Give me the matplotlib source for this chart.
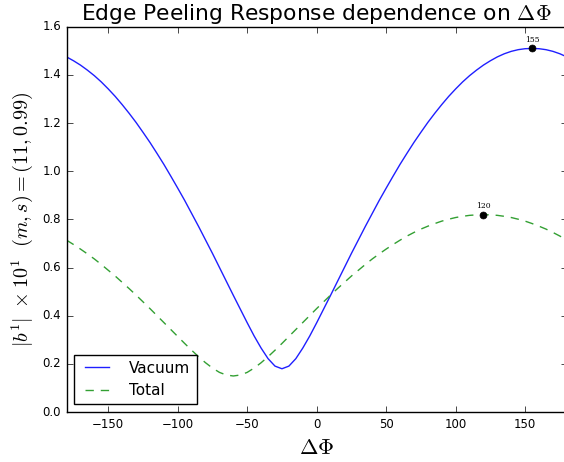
import numpy as np
import matplotlib
matplotlib.use('Agg')
import matplotlib.pyplot as plt

plt.style.use('classic')

# phase difference grid (deg)
phase = list(range(-180, 185, 5))

# |b^1| for the vacuum response
vacuum = [1.475, 1.459, 1.441, 1.420, 1.397, 1.371, 1.342, 1.311, 1.277, 1.241,
          1.203, 1.162, 1.120, 1.075, 1.029, 0.980, 0.930, 0.879, 0.825, 0.771,
          0.715, 0.659, 0.601, 0.543, 0.485, 0.428, 0.371, 0.316, 0.266, 0.222,
          0.191, 0.180, 0.191, 0.222, 0.266, 0.316, 0.371, 0.428, 0.485, 0.543,
          0.601, 0.659, 0.715, 0.771, 0.825, 0.879, 0.930, 0.980, 1.029, 1.075,
          1.120, 1.162, 1.203, 1.241, 1.277, 1.311, 1.342, 1.371, 1.397, 1.420,
          1.441, 1.459, 1.475, 1.488, 1.498, 1.505, 1.509, 1.510, 1.509, 1.505,
          1.498, 1.488, 1.475]

# |b^1| for the total response
total = [0.714, 0.696, 0.677, 0.657, 0.636, 0.613, 0.589, 0.565, 0.539, 0.513,
         0.486, 0.458, 0.430, 0.401, 0.372, 0.343, 0.314, 0.285, 0.257, 0.230,
         0.205, 0.183, 0.165, 0.154, 0.150, 0.154, 0.165, 0.183, 0.205, 0.230,
         0.257, 0.285, 0.314, 0.343, 0.372, 0.401, 0.430, 0.458, 0.486, 0.513,
         0.539, 0.565, 0.589, 0.613, 0.636, 0.657, 0.677, 0.696, 0.714, 0.731,
         0.746, 0.760, 0.772, 0.783, 0.793, 0.801, 0.808, 0.813, 0.817, 0.819,
         0.820, 0.819, 0.817, 0.813, 0.808, 0.801, 0.793, 0.783, 0.772, 0.760,
         0.746, 0.731, 0.714]

# maxima marked with dots
peak_phase = [155, 120]
peak_val = [1.51, 0.82]
peak_labels = ['155', '120']

fig = plt.figure(figsize=(5.64, 4.62), dpi=100, facecolor='white')
ax = fig.add_axes([0.118, 0.108, 0.887, 0.834])

ax.plot(phase, vacuum, '-', color='#1f1fff', lw=1, label='Vacuum')
ax.plot(phase, total, '--', color='#33a033', lw=1, dashes=(6, 5), label='Total')
ax.plot(peak_phase, peak_val, 'ko', ms=5)
for xp, yp, lab in zip(peak_phase, peak_val, peak_labels):
    ax.annotate(lab, (xp, yp), xytext=(0, 3.5), textcoords='offset points',
                ha='center', va='bottom', fontsize=5.5, family='serif')

ax.set_xlim(-180, 180)
ax.set_ylim(0, 1.6)
ax.set_xticks(np.arange(-150, 151, 50))
ax.set_yticks(np.arange(0, 1.61, 0.2))
ax.tick_params(labelsize=8.5)

ax.set_title(r'Edge Peeling Response dependence on $\Delta\Phi$', fontsize=15.7)
ax.set_xlabel(r'$\Delta\Phi$', fontsize=16)
ax.set_ylabel(r'$|b^1|\ \times10^1\ \ (m,s)=(11,0.99)$', fontsize=14.5)
ax.legend(loc='lower left', fontsize=11, handlelength=2.2, handletextpad=1.0,
          borderaxespad=0.5)

fig.savefig('out.png', dpi=100, facecolor='white')
